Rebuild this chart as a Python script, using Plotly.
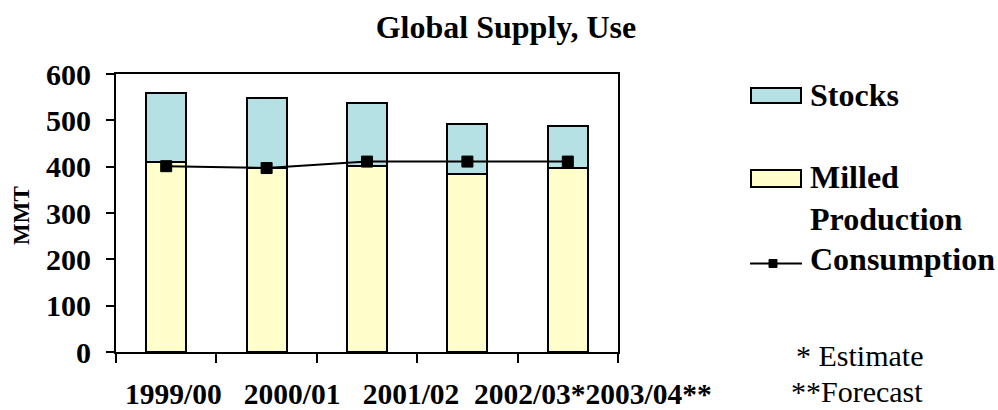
import plotly.graph_objects as go

# ---- data ----
categories = ["1999/00", "2000/01", "2001/02", "2002/03*", "2003/04**"]
milled_production = [411, 398, 401, 384, 398]
stocks = [147, 151, 136, 109, 90]
consumption = [401, 397, 411, 411, 411]
y_ticks = [0, 100, 200, 300, 400, 500, 600]

FONT = "Liberation Serif, Times New Roman, serif"
STOCK_COLOR = "#B5E1E5"
MILLED_COLOR = "#FFFFCC"

W, H = 998, 410
L, R, T, B = 114, 290, 74, 58
PW = W - L - R
PH = H - T - B


def px(x):
    return (x - L) / PW


def py(y):
    return (H - B - y) / PH


fig = go.Figure()
fig.add_trace(go.Bar(
    x=categories, y=milled_production, name="Milled Production", width=0.4,
    marker=dict(color=MILLED_COLOR, line=dict(color="black", width=2)),
))
fig.add_trace(go.Bar(
    x=categories, y=stocks, name="Stocks", width=0.4,
    marker=dict(color=STOCK_COLOR, line=dict(color="black", width=2)),
))
fig.add_trace(go.Scatter(
    x=categories, y=consumption, name="Consumption", mode="lines+markers",
    line=dict(color="black", width=2),
    marker=dict(symbol="square", size=11, color="black",
                line=dict(color="black", width=1)),
))
# invisible trace carrying the category labels on the label axis
fig.add_trace(go.Scatter(
    x=categories, y=milled_production, xaxis="x2", yaxis="y", mode="markers",
    marker=dict(opacity=0), showlegend=False, hoverinfo="skip",
))

ann = []
shapes = []

# custom legend
legend_font = dict(family=FONT, size=32, color="black", weight="bold")
shapes.append(dict(type="rect", xref="paper", yref="paper",
                   x0=px(751), x1=px(801), y0=py(103), y1=py(88),
                   fillcolor=STOCK_COLOR, line=dict(color="black", width=2)))
ann.append(dict(text="Stocks", xref="paper", yref="paper", x=px(808), y=py(95.5),
                xanchor="left", yanchor="middle", showarrow=False, font=legend_font))
shapes.append(dict(type="rect", xref="paper", yref="paper",
                   x0=px(751), x1=px(801), y0=py(187), y1=py(170),
                   fillcolor=MILLED_COLOR, line=dict(color="black", width=2)))
ann.append(dict(text="Milled<br>Production", xref="paper", yref="paper", x=px(808), y=py(198),
                xanchor="left", yanchor="middle", align="left", showarrow=False,
                font=legend_font))
shapes.append(dict(type="line", xref="paper", yref="paper",
                   x0=px(750), x1=px(802), y0=py(263.5), y1=py(263.5),
                   line=dict(color="black", width=2)))
shapes.append(dict(type="rect", xref="paper", yref="paper",
                   x0=px(769), x1=px(777), y0=py(267.5), y1=py(259.5),
                   fillcolor="black", line=dict(color="black", width=1)))
ann.append(dict(text="Consumption", xref="paper", yref="paper", x=px(808), y=py(258.5),
                xanchor="left", yanchor="middle", showarrow=False, font=legend_font))

# footnotes
note_font = dict(family=FONT, size=30, color="black")
ann.append(dict(text="* Estimate", xref="paper", yref="paper", x=px(925), y=py(355),
                xanchor="right", yanchor="middle", showarrow=False, font=note_font))
ann.append(dict(text="**Forecast", xref="paper", yref="paper", x=px(925), y=py(391.5),
                xanchor="right", yanchor="middle", showarrow=False, font=note_font))

# y axis title
ann.append(dict(text="MMT", xref="paper", yref="paper", x=px(22), y=py(216),
                xanchor="center", yanchor="middle", textangle=-90, showarrow=False,
                font=dict(family=FONT, size=23, color="black", weight="bold")))

fig.update_layout(
    width=W, height=H,
    margin=dict(l=L, r=R, t=T, b=B, pad=0, autoexpand=False),
    paper_bgcolor="white", plot_bgcolor="rgba(0,0,0,0)",
    barmode="stack", showlegend=False,
    title=dict(text="Global Supply, Use", x=506 / W, xref="container", xanchor="center",
               y=1 - 26.8 / H, yref="container", yanchor="middle",
               font=dict(family=FONT, size=32, color="black", weight="bold")),
    xaxis=dict(domain=[px(116), px(618)], type="category", range=[-0.5, 4.5],
               tickson="boundaries", ticks="outside", ticklen=9, tickwidth=2,
               tickcolor="black", showline=True, linewidth=2, linecolor="black",
               mirror=True, showticklabels=False, showgrid=False, zeroline=False,
               automargin=False),
    xaxis2=dict(domain=[0, 1], anchor="y", type="category", range=[-0.5, 4.5],
                categoryorder="array", categoryarray=categories,
                showline=False, ticks="", showgrid=False, zeroline=False,
                ticklabelstandoff=21, tickangle=0, automargin=False,
                tickfont=dict(family=FONT, size=29.5, color="black", weight="bold")),
    yaxis=dict(range=[0, 600], tickvals=y_ticks, ticks="outside", ticklen=8, tickwidth=2,
               tickcolor="black", showline=True, linewidth=2, linecolor="black",
               mirror=True, showgrid=False, zeroline=False, ticklabelstandoff=9,
               automargin=False,
               tickfont=dict(family=FONT, size=30, color="black", weight="bold")),
    annotations=ann,
    shapes=shapes,
)

fig.write_html(
    "out.html",
    config={"displayModeBar": False},
    post_script="document.body.style.margin='0px';document.body.style.overflow='hidden';",
)
